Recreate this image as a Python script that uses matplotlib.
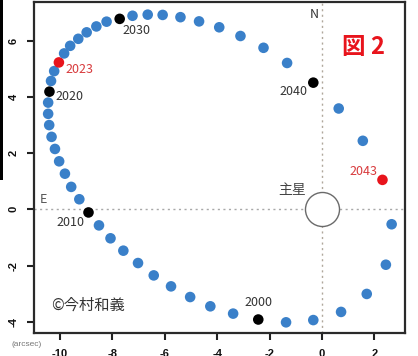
import matplotlib
matplotlib.use("Agg")
import matplotlib.pyplot as plt
from matplotlib.patches import Rectangle

plt.rcParams['font.family'] = ['Noto Sans CJK JP', 'DejaVu Sans']
plt.rcParams['axes.unicode_minus'] = False

# Companion position relative to the primary, one point per year (arcsec)
years = list(range(2000, 2050))
x_off = [-2.43, -3.39, -4.26, -5.03, -5.76, -6.42, -7.02, -7.58, -8.07, -8.51,
         -8.91, -9.26, -9.57, -9.81, -10.03, -10.19, -10.32, -10.41, -10.45, -10.45,
         -10.40, -10.34, -10.22, -10.04, -9.84, -9.61, -9.30, -8.98, -8.61, -8.22,
         -7.72, -7.23, -6.65, -6.08, -5.40, -4.69, -3.92, -3.11, -2.23, -1.33,
         -0.33, 0.64, 1.56, 2.31, 2.66, 2.44, 1.71, 0.73, -0.33, -1.37]
y_off = [-3.92, -3.71, -3.45, -3.12, -2.74, -2.35, -1.91, -1.47, -1.03, -0.57,
         -0.11, 0.36, 0.80, 1.27, 1.71, 2.15, 2.58, 3.00, 3.40, 3.80,
         4.19, 4.57, 4.92, 5.23, 5.55, 5.82, 6.07, 6.30, 6.51, 6.68,
         6.78, 6.89, 6.93, 6.92, 6.84, 6.69, 6.48, 6.17, 5.75, 5.21,
         4.51, 3.59, 2.44, 1.05, -0.53, -1.97, -3.01, -3.65, -3.94, -4.02]

decade_years = [2000, 2010, 2020, 2030, 2040]
highlight_years = [2023, 2043]

# label text positions (data units) for the marked years
label_pos = {
    2000: (-2.43, -3.32), 2010: (-9.60, -0.46), 2020: (-9.64, 4.01),
    2030: (-7.06, 6.35), 2040: (-1.08, 4.21), 2023: (-9.27, 4.98),
    2043: (1.58, 1.34),
}

x_ticks = [-10, -8, -6, -4, -2, 0, 2]
y_ticks = [-4, -2, 0, 2, 4, 6]

BLUE = "#3a80c9"
RED = "#e8141c"
TXT = "#333333"

fig = plt.figure(figsize=(4.18, 3.56), dpi=100)
ax = fig.add_axes([34 / 418, 23 / 356, 371 / 418, 331 / 356])
ax.set_xlim(-10.99, 3.17)
ax.set_ylim(-4.40, 7.38)

# reference axes through the primary
ax.axhline(0, color="#a8a8a8", lw=1.0, ls=(0, (1.5, 2.5)), zorder=1)
ax.axvline(0, color="#b0a89c", lw=1.0, ls=(0, (1.5, 2.5)), zorder=1)

# primary star
ax.plot([0], [0], marker="o", ms=24.5, mfc="white", mec="#6a6a6a", mew=1.0, zorder=3)

colors = []
for yr in years:
    if yr in highlight_years:
        colors.append(RED)
    elif yr in decade_years:
        colors.append("black")
    else:
        colors.append(BLUE)
ax.scatter(x_off, y_off, s=58, c=colors, edgecolors="none", zorder=4)

for yr, (lx, ly) in label_pos.items():
    col = "#d83a3c" if yr in highlight_years else TXT
    ax.text(lx, ly, str(yr), color=col, fontsize=9, ha="center", va="center", zorder=5)

ax.text(-1.15, 0.69, "主星", color="#444444", fontsize=10, ha="center", va="center")
ax.text(-0.31, 6.95, "N", color=TXT, fontsize=9, ha="center", va="center")
ax.text(-10.62, 0.36, "E", color="#555555", fontsize=9, ha="center", va="center")
ax.text(1.60, 5.79, "図 2", color=RED, fontsize=17, fontweight="bold",
        ha="center", va="center")
ax.text(-8.92, -3.41, "©今村和義", color=TXT, fontsize=11, ha="center", va="center")

ax.set_xticks(x_ticks)
ax.set_xticklabels([str(v) for v in x_ticks])
ax.set_yticks(y_ticks)
ax.set_yticklabels([str(v) for v in y_ticks], rotation=90, va="center")
for lab in ax.get_xticklabels() + ax.get_yticklabels():
    lab.set_family(["Liberation Sans", "DejaVu Sans"])
    lab.set_fontweight("bold")
    lab.set_fontsize(8)
ax.tick_params(axis="both", length=5, width=1.5, color="#222222", labelcolor="#111111")
ax.tick_params(axis="x", pad=6.5)
ax.tick_params(axis="y", pad=6)
for sp in ax.spines.values():
    sp.set_linewidth(1.6)
    sp.set_color("#2a2a2a")

fig.text(27 / 418, 11 / 356, "(arcsec)", fontsize=6, color="#777777",
         ha="center", va="center", family=["Liberation Sans", "DejaVu Sans"])

# dark strip at the left edge
fig.add_artist(Rectangle((0, 176 / 356), 3 / 418, 180 / 356, transform=fig.transFigure,
                         facecolor="black", edgecolor="none"))

fig.savefig("out.png", dpi=100)
